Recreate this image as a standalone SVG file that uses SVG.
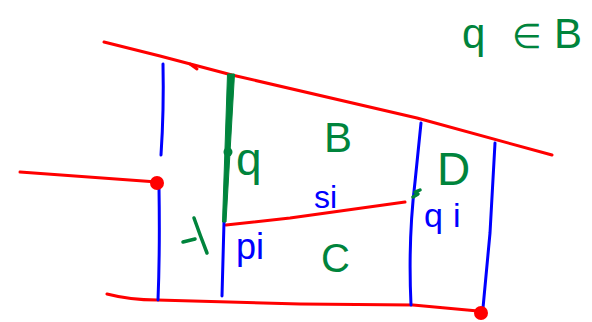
<svg xmlns="http://www.w3.org/2000/svg" width="592" height="322" viewBox="0 0 592 322">
<style>
.r{fill:none;stroke:#ff0000;stroke-width:3;stroke-linecap:round;stroke-linejoin:round}
.b{fill:none;stroke:#0000ff;stroke-width:3;stroke-linecap:round;stroke-linejoin:round}
.g{fill:none;stroke:#00843c;stroke-width:3.5;stroke-linecap:round;stroke-linejoin:round}
.tg{fill:#00843c;font-family:"Liberation Sans",Arial,sans-serif}
.tb{fill:#0000ff;font-family:"Liberation Sans",Arial,sans-serif}
</style>
<rect width="592" height="322" fill="#ffffff"/>
<g id="connectors">
  <path class="r" d="M104,42 L160,56 L232,75 L417,118 L552,155"/>
  <path class="r" d="M190,64 L197,69"/>
  <path class="r" d="M107,294 Q130,300 157,300 L300,304 L413,305 L478,311"/>
  <path class="r" d="M20,172 L157,182"/>
  <path class="r" d="M226,225 L290,218 L405,202"/>
  <path class="b" d="M163,64 Q164,110 161,155"/>
  <path class="b" d="M159,188 Q160,250 158,300"/>
  <path class="b" d="M224,222 L222,296"/>
  <path class="b" d="M421,123 L415,182 Q408,240 411,305"/>
  <path class="b" d="M495,143 L490,233 L483,308"/>
  <polygon points="227.5,74 234.5,74 226,222 222.5,222" fill="#00843c" stroke="#00843c" stroke-width="1" stroke-linejoin="round"/>
  <path class="g" d="M415,192 L420,190 M413,197 L418,194"/>
  <path class="g" d="M183,242 L195,239 M194,218 Q200,235 207,253"/>
</g>
<g id="dot-q"><circle cx="228" cy="152" r="4.5" fill="#00843c"/></g>
<g id="dot-left"><circle cx="157" cy="183" r="7" fill="#ff0000"/></g>
<g id="dot-bottom"><circle cx="481" cy="313" r="7" fill="#ff0000"/></g>
<g id="label-q"><text class="tg" x="236" y="175" font-size="46">q</text></g>
<g id="label-B"><text class="tg" x="324" y="152" font-size="42">B</text></g>
<g id="label-D"><text class="tg" x="437" y="185" font-size="46">D</text></g>
<g id="label-C"><text class="tg" x="321" y="272" font-size="40">C</text></g>
<g id="label-si"><text class="tb" x="314" y="208" font-size="32">si</text></g>
<g id="label-pi"><text class="tb" x="236" y="259" font-size="36">pi</text></g>
<g id="label-qi"><text class="tb" x="424" y="227" font-size="34">q<tspan x="453">i</tspan></text></g>
<g id="label-qinB"><text class="tg" y="48" font-size="42"><tspan x="462">q</tspan><tspan x="512" font-size="34">∈</tspan><tspan x="554">B</tspan></text></g>
</svg>
